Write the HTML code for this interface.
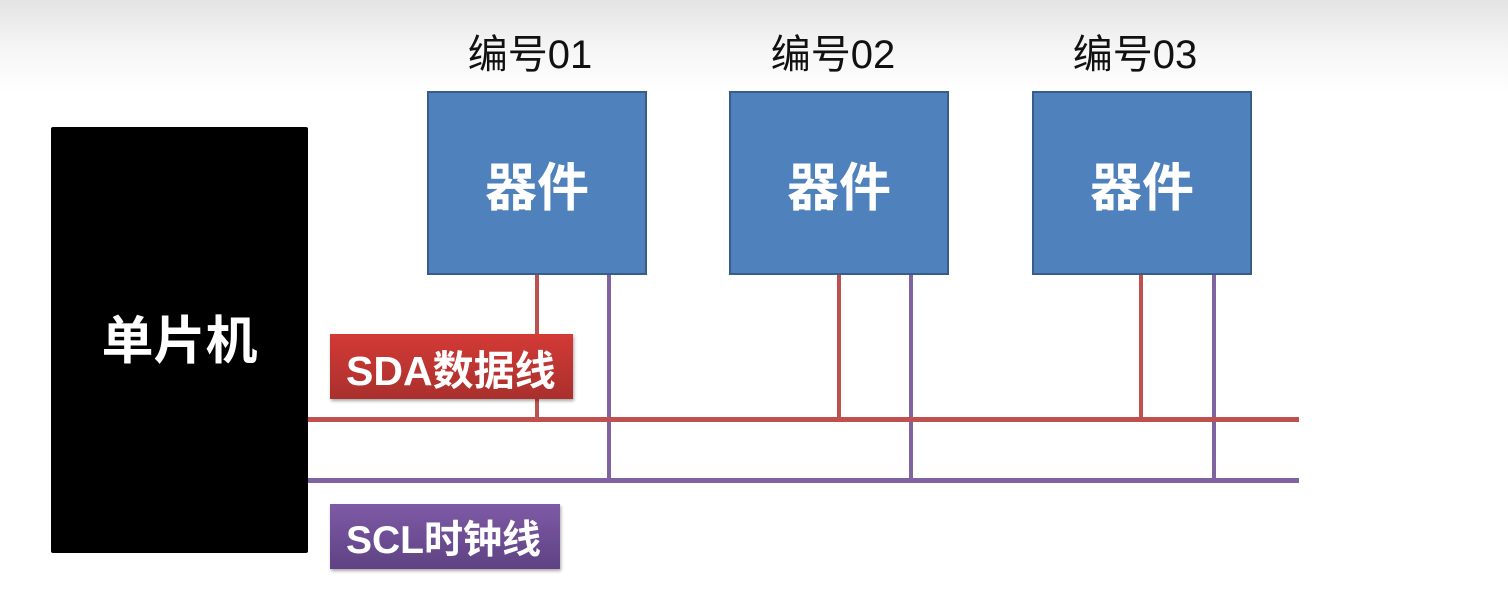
<!DOCTYPE html>
<html><head><meta charset="utf-8"><style>
body{margin:0;width:1508px;height:600px;position:relative;overflow:hidden;background:linear-gradient(#e4e4e4 0px,#f6f6f6 50px,#fff 95px,#fff 600px);font-family:"Liberation Sans","Noto Sans CJK SC",sans-serif}
.a{position:absolute}
.mcu{left:51px;top:127px;width:257px;height:426px;background:#000;border-radius:2px;color:#fff;font-weight:bold;font-size:52px;display:flex;align-items:center;justify-content:center;padding-bottom:8px;box-sizing:border-box}
.dev{top:91px;width:216px;height:180px;background:#4f81bd;border:2px solid #385d8a;color:#fff;font-weight:bold;font-size:52px;display:flex;align-items:center;justify-content:center}
.lab{top:22px;width:240px;text-align:center;font-size:40px;color:#111}
.r{background:#c0504d}.p{background:#8064a2}
.tag{color:#fff;font-weight:bold;display:flex;align-items:center;padding-left:16px;box-sizing:border-box;box-shadow:1px 2px 3px rgba(0,0,0,.35)}
</style></head><body>
<div class="a mcu">单片机</div>
<div class="a lab" style="left:410px">编号01</div>
<div class="a lab" style="left:713px">编号02</div>
<div class="a lab" style="left:1015px">编号03</div>
<div class="a r" style="left:535px;top:272px;width:4px;height:150px"></div>
<div class="a r" style="left:837px;top:272px;width:4px;height:150px"></div>
<div class="a r" style="left:1139px;top:272px;width:4px;height:150px"></div>
<div class="a p" style="left:607px;top:272px;width:4px;height:210px"></div>
<div class="a p" style="left:909px;top:272px;width:4px;height:210px"></div>
<div class="a p" style="left:1212px;top:272px;width:4px;height:210px"></div>
<div class="a r" style="left:308px;top:417px;width:991px;height:5px"></div>
<div class="a p" style="left:308px;top:478px;width:991px;height:5px"></div>
<div class="a dev" style="left:427px">器件</div>
<div class="a dev" style="left:729px">器件</div>
<div class="a dev" style="left:1032px">器件</div>
<div class="a tag" style="left:330px;top:334px;width:243px;height:65px;font-size:41px;background:linear-gradient(#d33a36,#a9302d)">SDA数据线</div>
<div class="a tag" style="left:330px;top:504px;width:230px;height:65px;font-size:39px;background:linear-gradient(#7f5aa6,#5e4283)">SCL时钟线</div>
</body></html>
